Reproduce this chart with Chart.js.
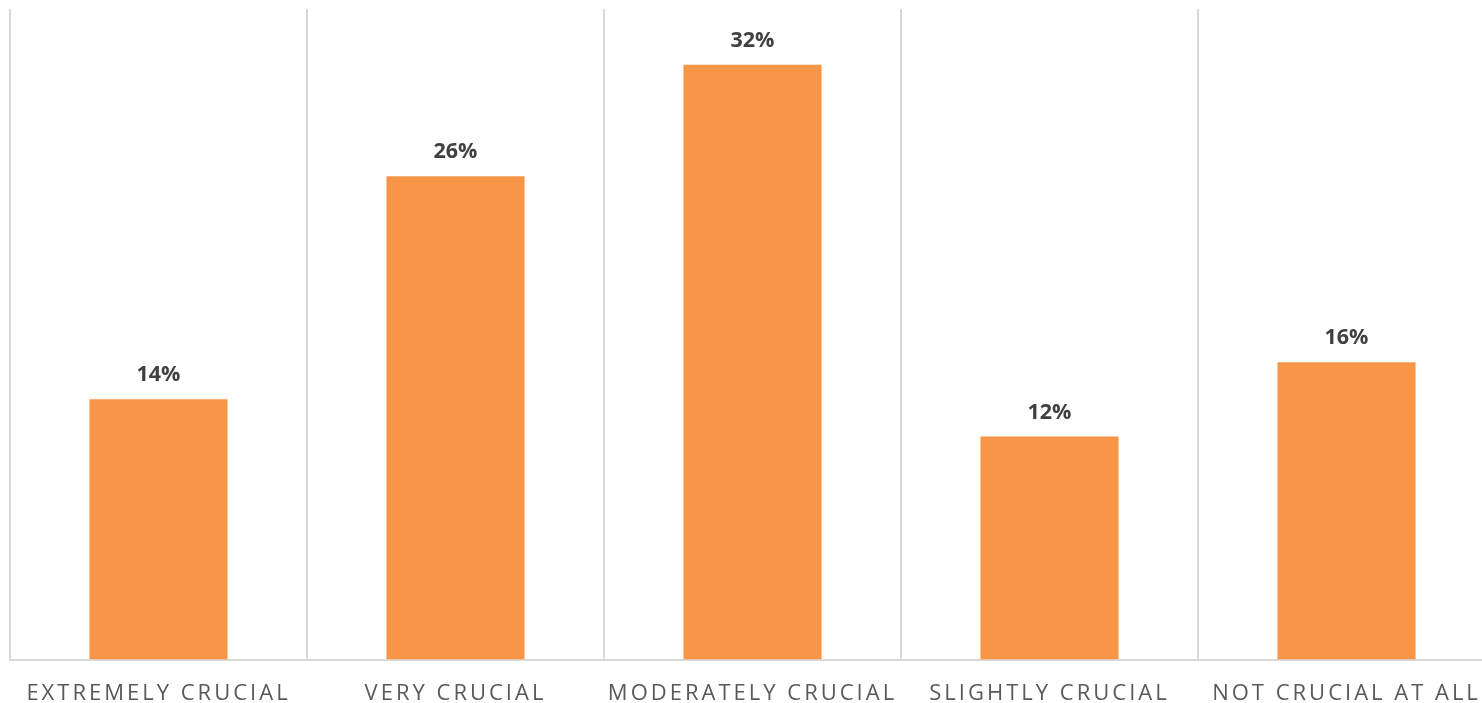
<!DOCTYPE html>
<html>
<head>
<meta charset="utf-8">
<script src="https://cdn.jsdelivr.net/npm/chart.js@4"></script>
<style>
html,body{margin:0;padding:0;overflow:hidden;background:#fff;}
#wrap{position:absolute;left:0;top:0;width:1500px;height:703px;}
</style>
</head>
<body>
<div id="wrap"><canvas id="c"></canvas></div>
<script>
const categories = ["EXTREMELY CRUCIAL", "VERY CRUCIAL", "MODERATELY CRUCIAL", "SLIGHTLY CRUCIAL", "NOT CRUCIAL AT ALL"];
const values = [14, 26, 32, 12, 16];

const labelPlugin = {
  id: 'valueLabels',
  beforeDraw(chart) { chart.ctx.letterSpacing = '3px'; },
  afterDatasetsDraw(chart) {
    const ctx = chart.ctx;
    ctx.save();
    ctx.letterSpacing = '0px';
    ctx.font = 'bold 21.5px "Open Sans"';
    ctx.fillStyle = '#404040';
    ctx.textAlign = 'center';
    ctx.textBaseline = 'alphabetic';
    chart.getDatasetMeta(0).data.forEach((bar, i) => {
      ctx.fillText(values[i] + '%', bar.x, bar.y - 18);
    });
    ctx.restore();
  }
};

new Chart(document.getElementById('c'), {
  type: 'bar',
  data: {
    labels: categories,
    datasets: [{
      data: values,
      backgroundColor: '#F79646',
      barPercentage: 0.465,
      categoryPercentage: 1
    }]
  },
  options: {
    responsive: true,
    maintainAspectRatio: false,
    animation: false,
    layout: { padding: { left: 10, right: 5, top: 9, bottom: -25 } },
    plugins: { legend: { display: false }, tooltip: { enabled: false } },
    scales: {
      x: {
        offset: true,
        grid: { offset: true, color: '#d9d9d9', lineWidth: 2, drawTicks: false },
        border: { color: '#d9d9d9', width: 2 },
        ticks: { color: '#595959', font: { family: '"Open Sans"', size: 22 }, padding: 21, maxRotation: 0, autoSkip: false }
      },
      y: { display: false, min: 0, max: 35 }
    }
  },
  plugins: [labelPlugin]
});
</script>
</body>
</html>
